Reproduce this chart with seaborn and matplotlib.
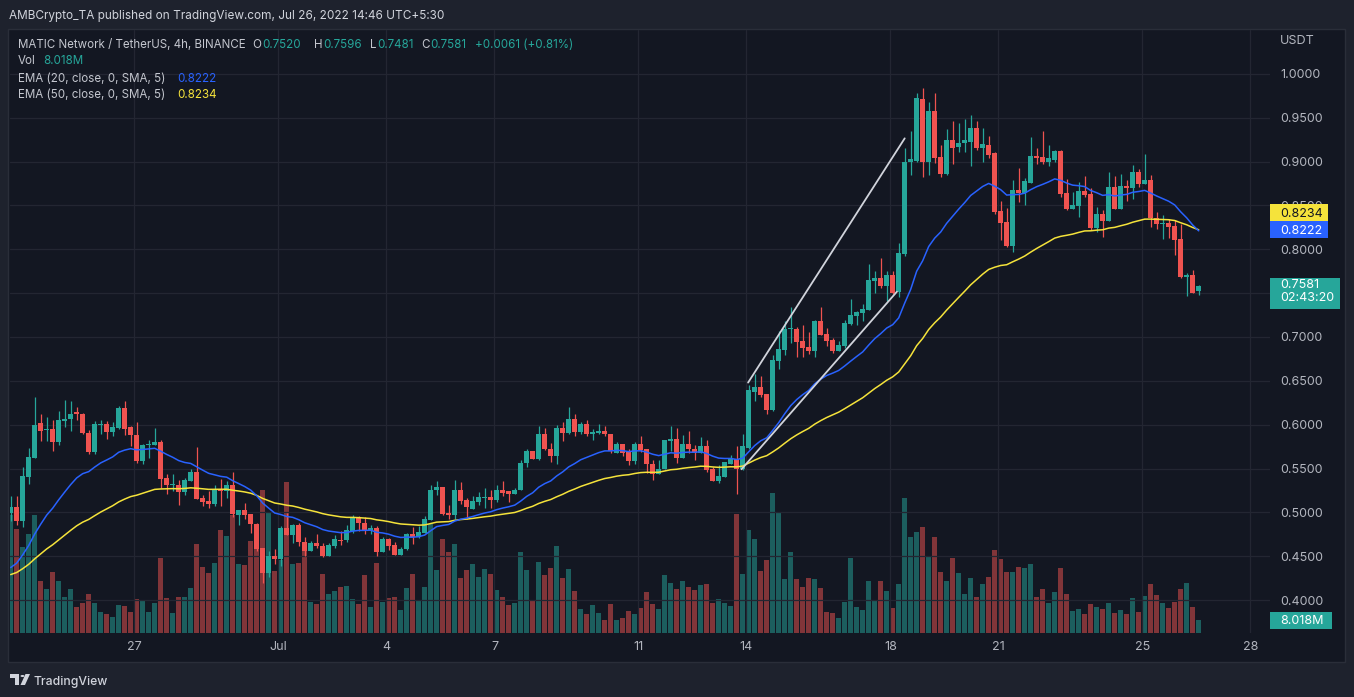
import numpy as np
import pandas as pd
import matplotlib
matplotlib.use("Agg")
import matplotlib.pyplot as plt
import seaborn as sns
from matplotlib.patches import Rectangle, Circle, Polygon

# ---------------- data (MATIC/USDT 4h) ----------------
start_time = "2022-06-23 13:30"
opens = [0.4995,0.506,0.490,0.540,0.5618,0.6017,0.5937,0.5956,0.580,0.604,
 0.6059,0.614,0.6127,0.590,0.5683,0.600,0.6013,0.5915,0.596,0.6185,
 0.5968,0.5877,0.5584,0.5763,0.5767,0.580,0.5386,0.5311,0.5315,0.523,
 0.5352,0.5455,0.5159,0.5124,0.510,0.5268,0.524,0.5315,0.4972,0.5022,
 0.4976,0.4862,0.4596,0.431,0.4497,0.4463,0.4816,0.4737,0.485,0.4664,
 0.4554,0.4645,0.4619,0.450,0.4615,0.4688,0.468,0.4786,0.493,0.4881,
 0.4797,0.4816,0.4547,0.4691,0.4623,0.4512,0.4577,0.4748,0.4718,0.4767,
 0.4907,0.5254,0.5288,0.4987,0.4965,0.526,0.5136,0.5041,0.5121,0.5159,
 0.5174,0.514,0.526,0.5239,0.5204,0.525,0.5565,0.5694,0.5614,0.5888,
 0.5725,0.5648,0.5957,0.590,0.6059,0.5918,0.6013,0.5899,0.5907,0.5933,
 0.5896,0.5679,0.5774,0.5687,0.558,0.5785,0.5717,0.5546,0.5432,0.5497,
 0.5808,0.5831,0.5622,0.5774,0.5725,0.5672,0.5751,0.5489,0.5352,0.5398,
 0.5557,0.5614,0.5489,0.5736,0.6376,0.6433,0.635,0.6167,0.673,0.6852,
 0.7091,0.709,0.6958,0.6886,0.6844,0.7182,0.7034,0.6966,0.6844,0.6897,
 0.7148,0.7239,0.7277,0.7308,0.7638,0.7677,0.7582,0.7707,0.7509,0.7946,
 0.8991,0.9012,0.9712,0.900,0.9573,0.9052,0.8857,0.9244,0.9162,0.9211,
 0.9227,0.9386,0.9154,0.9187,0.9101,0.8434,0.8308,0.8035,0.8674,0.8646,
 0.8755,0.9065,0.9052,0.8991,0.9024,0.9122,0.8639,0.846,0.8494,0.8666,
 0.8631,0.8247,0.8403,0.8327,0.8707,0.846,0.8722,0.870,0.8878,0.8745,
 0.8791,0.8354,0.8289,0.830,0.8266,0.8118,0.7688,0.7707,0.7520]
highs = [0.5185,0.519,0.552,0.5736,0.631,0.6116,0.609,0.605,0.616,0.6287,
 0.6275,0.6203,0.6135,0.5934,0.604,0.605,0.604,0.603,0.621,0.6275,
 0.5983,0.6036,0.578,0.583,0.5964,0.583,0.544,0.544,0.5364,0.539,
 0.5497,0.5747,0.5197,0.524,0.5307,0.5375,0.5356,0.5462,0.5022,0.511,
 0.4976,0.4874,0.4596,0.4558,0.4585,0.4843,0.4987,0.487,0.488,0.472,
 0.4676,0.4748,0.4653,0.4653,0.4737,0.4782,0.485,0.4965,0.4957,0.4946,
 0.485,0.4843,0.4714,0.471,0.466,0.4607,0.476,0.4835,0.4843,0.4957,
 0.5307,0.5356,0.5288,0.5079,0.5364,0.5345,0.5166,0.5185,0.5235,0.528,
 0.526,0.5307,0.5356,0.5239,0.528,0.5592,0.5725,0.5694,0.599,0.5964,
 0.5793,0.5994,0.6036,0.6196,0.6116,0.6029,0.6048,0.5953,0.601,0.598,
 0.5896,0.5801,0.5785,0.5717,0.5801,0.5869,0.5728,0.5592,0.5592,0.582,
 0.599,0.5964,0.5877,0.5933,0.577,0.5861,0.582,0.552,0.5538,0.5573,
 0.5652,0.5755,0.5888,0.6458,0.6578,0.6555,0.635,0.6794,0.7072,0.7182,
 0.7338,0.7118,0.7137,0.7053,0.7194,0.7338,0.7099,0.6985,0.6958,0.7194,
 0.7429,0.730,0.7376,0.7833,0.7753,0.7905,0.7757,0.7757,0.8068,0.9154,
 0.9345,0.9781,0.9838,0.9675,0.9785,0.9195,0.9378,0.9459,0.9439,0.9488,
 0.9528,0.9467,0.9386,0.9297,0.9113,0.8556,0.8475,0.8788,0.8931,0.8808,
 0.9284,0.9154,0.9345,0.9187,0.9134,0.9134,0.8798,0.8654,0.8764,0.8836,
 0.8696,0.8479,0.8449,0.8878,0.8836,0.8859,0.8791,0.8962,0.8916,0.9087,
 0.8848,0.8422,0.8392,0.8346,0.8335,0.8285,0.7734,0.7764,0.7596]
lows = [0.490,0.486,0.483,0.5326,0.562,0.581,0.581,0.570,0.5766,0.597,
 0.5926,0.6048,0.5888,0.567,0.566,0.589,0.5831,0.587,0.5945,0.5877,
 0.5755,0.5565,0.5546,0.562,0.5767,0.528,0.5204,0.524,0.5082,0.520,
 0.5352,0.5155,0.507,0.5048,0.507,0.507,0.5166,0.495,0.4855,0.492,
 0.476,0.4558,0.419,0.4265,0.4406,0.4387,0.4737,0.4645,0.4615,0.450,
 0.4554,0.4596,0.449,0.450,0.4588,0.4626,0.466,0.4767,0.4786,0.4748,
 0.4748,0.450,0.4547,0.457,0.4512,0.4512,0.457,0.464,0.471,0.4767,
 0.4907,0.5193,0.4965,0.492,0.492,0.509,0.4926,0.5033,0.5079,0.5052,
 0.5052,0.5117,0.519,0.5117,0.5204,0.525,0.552,0.5603,0.5592,0.5706,
 0.5573,0.5557,0.5812,0.5888,0.5869,0.5888,0.5869,0.5823,0.5888,0.5876,
 0.5679,0.5672,0.5641,0.5535,0.5557,0.5687,0.545,0.5367,0.5432,0.5497,
 0.5698,0.5565,0.5622,0.5679,0.5592,0.5672,0.546,0.5352,0.533,0.5398,
 0.5557,0.5204,0.5478,0.5724,0.6274,0.6312,0.6122,0.616,0.6635,0.6794,
 0.6928,0.6775,0.6768,0.6806,0.6775,0.7026,0.6897,0.6821,0.6844,0.687,
 0.7137,0.7137,0.7186,0.7308,0.7505,0.7555,0.7414,0.749,0.7452,0.7926,
 0.8849,0.900,0.882,0.8849,0.899,0.882,0.8849,0.8971,0.9105,0.9113,
 0.8951,0.9134,0.900,0.904,0.8401,0.8105,0.8023,0.7966,0.8536,0.8503,
 0.8755,0.8971,0.8971,0.8951,0.8991,0.8593,0.8449,0.846,0.8373,0.860,
 0.8221,0.8201,0.8145,0.8327,0.846,0.846,0.8555,0.8574,0.8715,0.8745,
 0.8259,0.8232,0.8118,0.8125,0.7935,0.767,0.7471,0.7498,0.7481]
closes = [0.506,0.490,0.542,0.5626,0.600,0.5926,0.5956,0.580,0.6048,0.607,
 0.6127,0.6116,0.5903,0.5683,0.6013,0.6013,0.5915,0.5968,0.6185,0.5945,
 0.5877,0.5584,0.5763,0.578,0.580,0.5383,0.531,0.5322,0.523,0.5364,
 0.5455,0.5155,0.5117,0.510,0.5268,0.524,0.5315,0.4976,0.5022,0.4972,
 0.4862,0.4585,0.431,0.4497,0.4463,0.4816,0.4737,0.485,0.466,0.4554,
 0.4645,0.4615,0.450,0.4623,0.4691,0.4676,0.4794,0.493,0.4874,0.4797,
 0.4816,0.4547,0.4691,0.4615,0.4512,0.4577,0.4748,0.4718,0.4771,0.4919,
 0.526,0.5288,0.4976,0.4965,0.526,0.5128,0.506,0.5124,0.517,0.5174,
 0.514,0.526,0.522,0.5204,0.526,0.5565,0.5694,0.5614,0.5888,0.5717,
 0.5648,0.5957,0.590,0.6059,0.5918,0.6013,0.5888,0.5914,0.5933,0.5888,
 0.5698,0.5774,0.5672,0.558,0.5785,0.5709,0.5546,0.5432,0.5497,0.582,
 0.5831,0.5622,0.5774,0.5717,0.5672,0.5751,0.5478,0.5352,0.5409,0.5573,
 0.5618,0.5489,0.5755,0.639,0.6433,0.6338,0.6167,0.6737,0.6863,0.709,
 0.7095,0.6947,0.6874,0.6844,0.7186,0.7026,0.6958,0.6844,0.6908,0.7156,
 0.725,0.7285,0.7319,0.765,0.7677,0.7582,0.7707,0.7505,0.7954,0.8991,
 0.9032,0.9724,0.900,0.9573,0.904,0.8857,0.9244,0.9154,0.9215,0.9244,
 0.9386,0.9154,0.9203,0.9081,0.8422,0.830,0.8035,0.8674,0.8646,0.8776,
 0.9065,0.904,0.8991,0.904,0.9122,0.8633,0.846,0.8506,0.8666,0.862,
 0.8247,0.8403,0.8327,0.8707,0.846,0.8722,0.870,0.8878,0.8745,0.8791,
 0.8354,0.8289,0.830,0.8259,0.8107,0.7681,0.7707,0.7498,0.7581]
volumes_m = [72.8,64.2,53.1,61.1,72.8,32.1,27.1,37.6,32.1,22.2,
 27.1,16.0,18.5,24.1,18.5,13.0,11.7,9.9,17.3,16.7,
 13.0,21.0,19.7,13.0,18.5,46.3,21.6,12.3,22.2,22.2,
 27.8,54.9,40.7,37.0,43.2,63.6,59.8,72.8,42.6,42.0,
 56.8,66.6,88.2,74.7,38.3,45.0,93.2,42.6,43.2,50.6,
 19.1,17.9,36.4,24.1,25.9,28.4,29.0,21.0,17.9,35.8,
 16.0,43.2,19.1,21.6,22.2,14.2,27.8,36.4,20.4,28.4,
 67.3,38.9,58.0,50.0,54.9,33.9,38.9,42.6,34.6,39.5,
 36.4,26.5,22.2,17.3,18.5,50.0,38.9,20.4,43.8,35.8,
 40.1,53.7,33.9,39.5,25.9,14.8,11.7,17.3,12.3,8.0,
 17.9,8.0,9.3,13.6,11.7,15.4,25.3,17.9,14.8,35.8,
 30.9,27.1,32.1,28.4,26.5,29.6,30.2,18.5,21.0,18.5,
 16.7,73.4,36.4,63.6,58.0,38.3,45.0,86.4,74.0,33.3,
 50.0,33.3,28.4,33.9,33.3,27.8,13.0,12.3,9.3,19.1,
 46.3,16.0,14.2,32.1,20.4,32.1,25.9,15.4,30.2,83.3,
 59.2,62.3,65.4,46.9,59.2,37.6,32.1,46.3,37.0,24.1,
 33.9,22.2,30.2,34.6,51.2,45.7,37.6,37.6,40.7,40.1,
 42.6,22.2,27.1,18.5,25.3,40.1,24.1,13.6,14.8,11.7,
 17.9,16.0,14.8,18.5,12.3,14.2,11.7,21.6,13.0,22.8,
 30.2,23.4,18.5,15.4,19.1,27.1,30.9,16.0,8.018]
ema20_first = 0.437      # EMA values at the first visible candle
ema50_first = 0.429
ema20_last_shown = 0.8222   # values printed by the chart
ema50_last_shown = 0.8234
countdown = "02:43:20"
trend_upper_x = [122.9, 149.0]
trend_upper_y = [0.648, 0.9266]
trend_lower_x = [121.8, 147.7]
trend_lower_y = [0.5491, 0.7517]
date_ticks = ["2022-06-27", "2022-07-01", "2022-07-04", "2022-07-07", "2022-07-11",
              "2022-07-14", "2022-07-18", "2022-07-21", "2022-07-25", "2022-07-28"]
date_labels = ["27", "Jul", "4", "7", "11", "14", "18", "21", "25", "28"]
price_ticks = [0.40, 0.45, 0.50, 0.55, 0.60, 0.65, 0.70, 0.75, 0.80, 0.85, 0.90, 0.95, 1.00]

# ---------------- style ----------------
sns.set_theme(style="dark")
plt.rcParams['font.family'] = ['Inter', 'DejaVu Sans']

W, H = 1354, 697
FIG_BG = '#1e222d'; BG = '#131722'; GRID = '#232632'
TXT = '#d1d4dc'; AX_TXT = '#b2b5be'
UP = '#26a69a'; DN = '#ef5350'; BLUE = '#2962ff'; YEL = '#f5e33b'

fig = plt.figure(figsize=(W / 100, H / 100), dpi=100, facecolor=FIG_BG)
renderer = fig.canvas.get_renderer()

def fx(px): return px / W
def fy(py): return 1 - py / H

fig.patches.append(Rectangle((fx(8), fy(662)), (1345 - 8) / W, (662 - 29) / H,
                             transform=fig.transFigure, facecolor=BG,
                             edgecolor='#2a2e39', lw=1.0, zorder=-5))

L, R, T, B = 10, 1270, 30, 633
rect = [fx(L), fy(B), (R - L) / W, (B - T) / H]
ax_vol = fig.add_axes(rect)
ax = fig.add_axes(rect, sharex=ax_vol)
for a in (ax_vol, ax):
    a.set_facecolor('none')

PX_PER_UNIT = 876.7
YT = 1.0 + (74 - T) / PX_PER_UNIT
YB = 0.4 - (B - 600) / PX_PER_UNIT
VOL_TOP = (B - T) * (8.018 / 13.0)
X0 = (L - 10.7) / 6.0
X1 = (R - 10.7) / 6.0

n = len(closes)
idx = np.arange(n)
o = np.array(opens); c = np.array(closes); h = np.array(highs); lo = np.array(lows)
dirs = np.where(c >= o, 'up', 'down')
cols = np.where(c >= o, UP, DN)

# volume
df_vol = pd.DataFrame({'idx': idx, 'vol': volumes_m, 'dir': dirs})
sns.barplot(data=df_vol, x='idx', y='vol', hue='dir', palette={'up': UP, 'down': DN},
            native_scale=True, dodge=False, width=0.8, errorbar=None, legend=False,
            saturation=1, alpha=0.5, linewidth=0, ax=ax_vol)
ax_vol.set_ylim(0, VOL_TOP)
ax_vol.set_axis_off()

# candles
ax.vlines(idx, lo, h, colors=cols, lw=0.9, zorder=3)
body_bottom = np.minimum(o, c)
body_h = np.maximum(np.abs(c - o), 0.0011)
ax.bar(idx, body_h, bottom=body_bottom, width=0.78, color=cols, linewidth=0, zorder=4)

# EMAs
def ema(values, span, first):
    alpha = 2.0 / (span + 1)
    out = [first]
    for v in values[1:]:
        out.append(alpha * v + (1 - alpha) * out[-1])
    return np.array(out)

ema20 = ema(closes, 20, ema20_first)
ema50 = ema(closes, 50, ema50_first)
sns.lineplot(x=idx, y=ema50, ax=ax, color=YEL, lw=1.1, zorder=5)
sns.lineplot(x=idx, y=ema20, ax=ax, color=BLUE, lw=1.1, zorder=5)

# trend lines
ax.plot(trend_upper_x, trend_upper_y, color='#d1d4dc', lw=1.3, zorder=6, solid_capstyle='round')
ax.plot(trend_lower_x, trend_lower_y, color='#d1d4dc', lw=1.3, zorder=6, solid_capstyle='round')

# axes
t0 = pd.Timestamp(start_time)
tick_pos = [(pd.Timestamp(d) - t0) / pd.Timedelta(hours=4) for d in date_ticks]

def fit(text, target_w, **kw):
    t = fig.text(0, 0, text, fontsize=10, **kw)
    w = t.get_window_extent(renderer).width
    t.remove()
    return 10 * target_w / w

AX_FS = fit("1.0000", 41)
ax.set_xlim(X0, X1)
ax.set_ylim(YB, YT)
ax.set_yticks(price_ticks)
# the 0.7500 label sits fully under the last-price tag in the chart
ax.set_yticklabels(["" if abs(p - 0.75) < 1e-9 else f"{p:.4f}" for p in price_ticks])
ax.yaxis.tick_right()
ax.set_xticks(tick_pos)
ax.set_xticklabels(date_labels)
ax.tick_params(axis='y', length=0, pad=7.2, labelsize=AX_FS, labelcolor=AX_TXT)
ax.tick_params(axis='x', length=0, pad=6.0, labelsize=AX_FS, labelcolor=AX_TXT)
ax.grid(True, color=GRID, lw=0.9, zorder=0)
ax.set_axisbelow(True)
ax.set_xlabel(''); ax.set_ylabel('')
for s in ax.spines.values():
    s.set_visible(False)

def py(p): return T + (YT - p) / (YT - YB) * (B - T)

def box(x0, y0, x1, y1, color, text, ty, tc, va='center_baseline', ls=1.2):
    fig.patches.append(Rectangle((fx(x0), fy(y1)), (x1 - x0) / W, (y1 - y0) / H,
                                 transform=fig.transFigure, facecolor=color,
                                 edgecolor='none', zorder=10))
    fig.text(fx(1280), fy(ty), text, color=tc, fontsize=AX_FS, va=va,
             ha='left', zorder=11, linespacing=ls)

yb = py(ema20_last_shown)
box(1270, yb - 8.5, 1328, yb + 8.5, BLUE, f"{ema20_last_shown:.4f}", yb, 'white')
box(1270, yb - 25.5, 1328, yb - 8.5, YEL, f"{ema50_last_shown:.4f}", yb - 17, '#131722')
yc = py(closes[-1])
box(1270, yc - 8, 1340, yc + 23, UP, f"{closes[-1]:.4f}\n{countdown}", yc - 7, 'white',
    va='top', ls=1.12)
yv = B - volumes_m[-1] / VOL_TOP * (B - T)
box(1270, yv - 8.5, 1332, yv + 8.5, UP, f"{volumes_m[-1]:.3f}M", yv, 'white')
fig.text(fx(1280), fy(40), "USDT", color=AX_TXT, fontsize=AX_FS, va='center_baseline', ha='left')

# header texts
title = "AMBCrypto_TA published on TradingView.com, Jul 26, 2022 14:46 UTC+5:30"
fig.text(fx(9), fy(14), title, color=TXT, fontsize=fit(title, 436), va='center_baseline', ha='left')

LEG_FS = fit("MATIC Network / TetherUS, 4h, BINANCE", 229)

def piece(x, y, s, col):
    t = fig.text(fx(x), fy(y), s, color=col, fontsize=LEG_FS, va='center_baseline', ha='left')
    return x + t.get_window_extent(renderer).width

LEG_TXT = '#c3c6ce'
piece(18, 43, "MATIC Network / TetherUS, 4h, BINANCE", LEG_TXT)
for lx, letter, val in [(252, "O", f"{opens[-1]:.4f}"), (314, "H", f"{highs[-1]:.4f}"),
                        (370, "L", f"{lows[-1]:.4f}"), (421, "C", f"{closes[-1]:.4f}")]:
    nx = piece(lx, 43, letter, LEG_TXT)
    piece(nx + 1, 43, val, UP)
chg = closes[-1] - opens[-1]
piece(475, 43, f"+{chg:.4f} (+{chg / opens[-1] * 100:.2f}%)", UP)
piece(18, 60, "Vol", LEG_TXT)
piece(43, 60, f"{volumes_m[-1]:.3f}M", UP)
piece(18, 77, "EMA (20, close, 0, SMA, 5)", LEG_TXT)
piece(177, 77, f"{ema20_last_shown:.4f}", BLUE)
piece(18, 94, "EMA (50, close, 0, SMA, 5)", LEG_TXT)
piece(177, 94, f"{ema50_last_shown:.4f}", YEL)

# footer logo
fig.patches.append(Polygon([(fx(10), fy(674)), (fx(19), fy(674)), (fx(19), fy(685)),
                            (fx(15), fy(685)), (fx(15), fy(678)), (fx(10), fy(678))],
                           closed=True, transform=fig.transFigure, facecolor=TXT, edgecolor='none'))
fig.patches.append(Circle((fx(22.5), fy(676)), 2.0 / W, transform=fig.transFigure,
                          facecolor=TXT, edgecolor='none'))
fig.patches.append(Polygon([(fx(25.5), fy(674)), (fx(30), fy(674)), (fx(25), fy(685)), (fx(20.5), fy(685))],
                           closed=True, transform=fig.transFigure, facecolor=TXT, edgecolor='none'))
fig.text(fx(33), fy(681), "TradingView", color=TXT, fontsize=fit("TradingView", 74, fontweight='medium'),
         fontweight='medium', va='center_baseline', ha='left')

fig.savefig("out.png", dpi=100, facecolor=FIG_BG)
